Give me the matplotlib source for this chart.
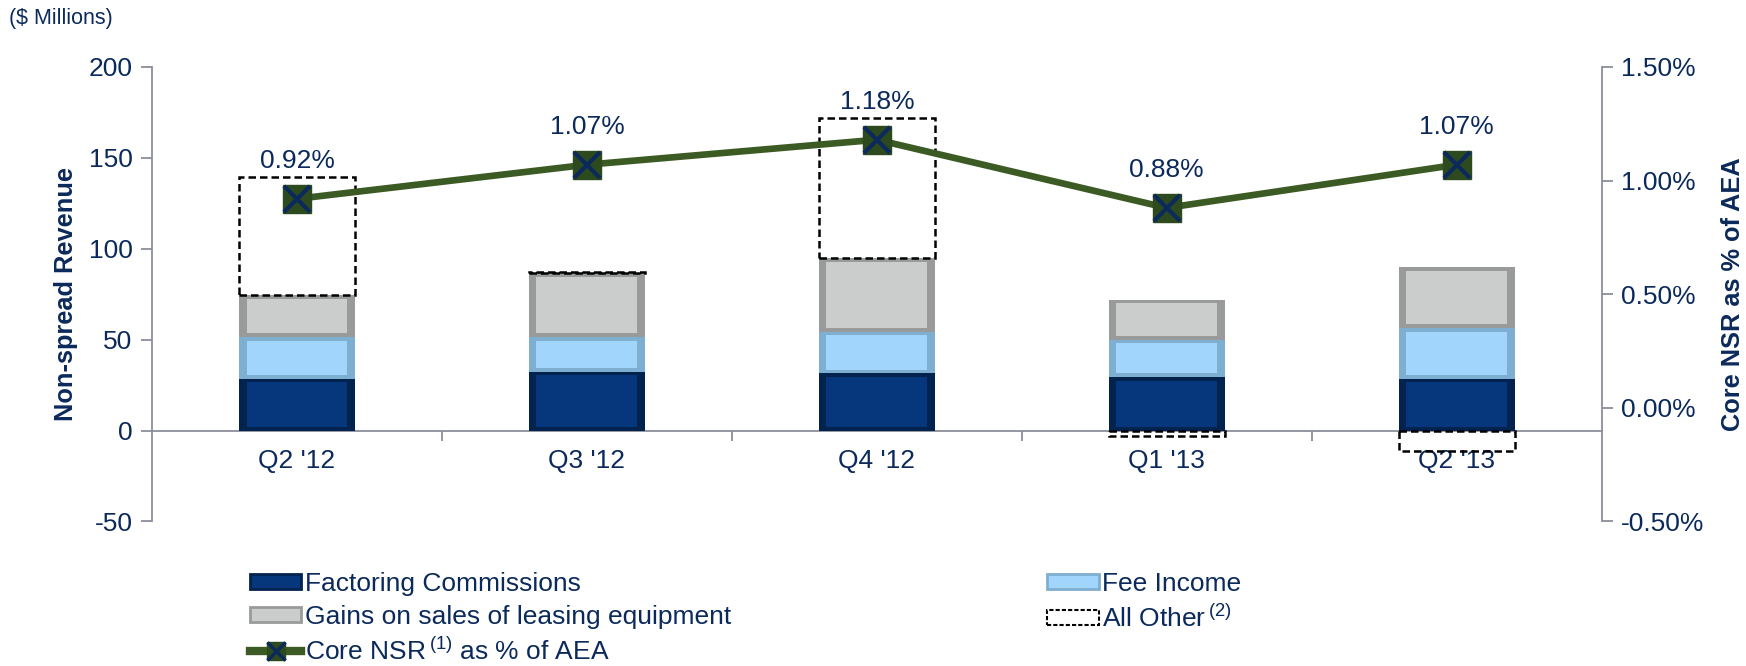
import numpy as np
import matplotlib.pyplot as plt
from matplotlib.patches import Patch
from matplotlib.lines import Line2D
from matplotlib.ticker import FuncFormatter, FixedLocator

plt.rcParams['font.family'] = ['Liberation Sans', 'DejaVu Sans']
plt.rcParams['mathtext.fontset'] = 'custom'
plt.rcParams['mathtext.rm'] = 'Liberation Sans'
plt.rcParams['mathtext.it'] = 'Liberation Sans'
plt.rcParams['axes.unicode_minus'] = False

# data ($ millions)
quarters = ["Q2 '12", "Q3 '12", "Q4 '12", "Q1 '13", "Q2 '13"]
factoring = [28.5, 32.5, 31.5, 29.5, 28.5]
fee_income = [23.0, 19.0, 23.0, 20.5, 28.0]
gains = [23.0, 35.0, 40.5, 22.0, 33.5]
all_other = [65.0, 0.5, 77.0, -3.0, -11.0]
core_nsr = [0.92, 1.07, 1.18, 0.88, 1.07]   # % of AEA

NAVY = '#0b2a5b'
GRAY = '#8b8e9b'
# (frame, face) colours - a cheap stand-in for the bevelled look
C_FACT = ('#03234f', '#06367c')
C_FEE = ('#7eaed0', '#a2d5fb')
C_GAIN = ('#999b9a', '#cbcdcc')
C_LINE = '#3b5a24'
C_MARK = '#2c4a1e'

x = np.arange(len(quarters))
w = 0.4
inset_x = 0.026   # bevel width in category units
inset_y = 2.0     # bevel height in $M


def bevel_bar(ax, bottom, height, cols):
    frame, face = cols
    ax.bar(x, height, w, bottom=bottom, color=frame, linewidth=0, zorder=2)
    ax.bar(x, np.maximum(height - 2 * inset_y, 0), w - 2 * inset_x,
           bottom=bottom + inset_y, color=face, linewidth=0, zorder=2.1)


fig = plt.figure(figsize=(17.46, 6.66), dpi=100)
ax = fig.add_axes([0.0871, 0.217, 0.8302, 0.6824])

fact = np.array(factoring)
fee = np.array(fee_income)
gn = np.array(gains)
oth = np.array(all_other)

bevel_bar(ax, 0, fact, C_FACT)
bevel_bar(ax, fact, fee, C_FEE)
bevel_bar(ax, fact + fee, gn, C_GAIN)
oth_bottom = np.where(oth > 0, fact + fee + gn, 0)
ax.bar(x, oth, w, bottom=oth_bottom, fill=False, edgecolor='black',
       linestyle=(0, (3, 1.6)), linewidth=1.8, zorder=3)

ax.set_xlim(-0.5, len(quarters) - 0.5)
ax.set_ylim(-50, 200)
ax.set_yticks([-50, 0, 50, 100, 150, 200])

for s in ['top', 'right']:
    ax.spines[s].set_visible(False)
ax.spines['left'].set_color(GRAY)
ax.spines['left'].set_linewidth(1.3)
ax.spines['bottom'].set_position(('data', 0))
ax.spines['bottom'].set_color(GRAY)
ax.spines['bottom'].set_linewidth(1.3)
ax.spines['bottom'].set_zorder(1)

ax.set_xticks(x)
ax.set_xticklabels(quarters)
ax.xaxis.set_minor_locator(FixedLocator(x[:-1] + 0.5))
ax.tick_params(axis='x', which='major', length=0, pad=13, labelsize=19, labelcolor=NAVY)
ax.tick_params(axis='x', which='minor', length=7, width=1.3, color=GRAY, direction='out')
ax.tick_params(axis='y', length=8, width=1.3, color=GRAY, labelsize=19, labelcolor=NAVY, pad=6)
ax.set_ylabel('Non-spread Revenue', fontsize=18.3, fontweight='bold', color=NAVY, labelpad=8)

ax2 = ax.twinx()
ax2.set_ylim(-0.5, 1.5)
ax2.set_yticks([-0.5, 0, 0.5, 1.0, 1.5])
ax2.yaxis.set_major_formatter(FuncFormatter(lambda v, p: f'{v:.2f}%'))
for s in ['top', 'left', 'bottom']:
    ax2.spines[s].set_visible(False)
ax2.spines['right'].set_color(GRAY)
ax2.spines['right'].set_linewidth(1.3)
ax2.tick_params(axis='y', length=8, width=1.3, color=GRAY, labelsize=19, labelcolor=NAVY, pad=6)
ax2.set_ylabel('Core NSR as % of AEA', fontsize=18.3, fontweight='bold', color=NAVY,
               rotation=90, labelpad=12)

ax2.plot(x, core_nsr, color=C_LINE, linewidth=4.8, zorder=4)
ax2.plot(x, core_nsr, linestyle='none', marker='s', markersize=20,
         markerfacecolor=C_MARK, markeredgecolor=C_MARK, zorder=5)
ax2.plot(x, core_nsr, linestyle='none', marker='x', markersize=19,
         markeredgewidth=3, color=NAVY, zorder=6)
for xi, v in zip(x, core_nsr):
    ax2.annotate(f'{v:.2f}%', (xi, v), xytext=(0, 27), textcoords='offset points',
                 ha='center', va='center', fontsize=19, color=NAVY)

fig.text(0.005, 0.972, '($ Millions)', fontsize=15.5, color=NAVY, va='center', ha='left')

# legends
h_fact = Patch(facecolor=C_FACT[1], edgecolor=C_FACT[0], linewidth=2)
h_fee = Patch(facecolor=C_FEE[1], edgecolor=C_FEE[0], linewidth=2)
h_gain = Patch(facecolor=C_GAIN[1], edgecolor=C_GAIN[0], linewidth=2)
h_oth = Patch(fill=False, edgecolor='black', linestyle=(0, (2, 1)), linewidth=1.5)
h_line = (Line2D([], [], color=C_LINE, linewidth=6),
          Line2D([], [], linestyle='none', marker='s', markersize=13,
                 markerfacecolor=C_MARK, markeredgecolor=C_MARK),
          Line2D([], [], linestyle='none', marker='x', markersize=13,
                 markeredgewidth=2.5, color=NAVY))

leg_kw = dict(frameon=False, fontsize=19, handlelength=1.95, handleheight=0.5,
              handletextpad=0.15, labelspacing=0.33, borderpad=0, borderaxespad=0,
              loc='upper left', bbox_transform=fig.transFigure, labelcolor=NAVY)
leg1 = fig.legend([h_fact, h_gain, h_line],
                  ['Factoring Commissions', 'Gains on sales of leasing equipment',
                   r'Core NSR$\,^{(1)}$ as % of AEA'],
                  bbox_to_anchor=(0.1432, 0.141), **leg_kw)
leg2 = fig.legend([h_fee, h_oth], ['Fee Income', r'All Other$\,^{(2)}$'],
                  bbox_to_anchor=(0.5997, 0.141), **leg_kw)

fig.savefig('out.png', dpi=100)
